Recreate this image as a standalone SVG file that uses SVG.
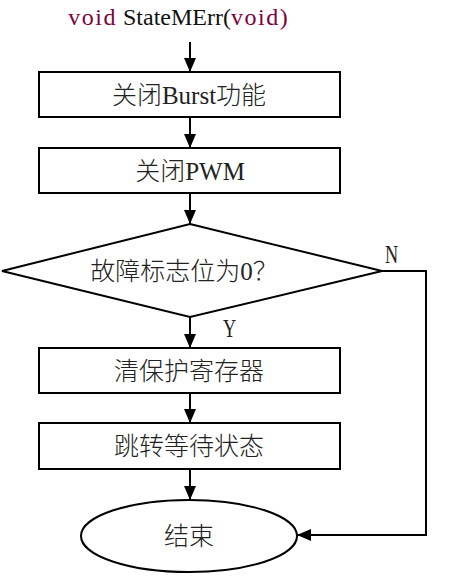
<svg xmlns="http://www.w3.org/2000/svg" width="451" height="584" viewBox="0 0 451 584">
<style>
.box{fill:#fff;stroke:#000;stroke-width:2}
.ln{fill:none;stroke:#000;stroke-width:2}
.t{font-family:"Liberation Serif","Noto Sans CJK SC",serif;font-size:25px;font-weight:300;fill:#222;text-anchor:middle}
.lbl{font-family:"Liberation Serif",serif;font-size:26px;fill:#222}
.kw{fill:#800040}
</style>
<defs>
<marker id="ah" markerWidth="14" markerHeight="12" refX="14" refY="6" orient="auto" markerUnits="userSpaceOnUse">
<path d="M0,0 L14,6 L0,12 Z" fill="#000"/>
</marker>
</defs>
<g id="title">
<text x="178" y="25" font-family="Liberation Serif,serif" font-size="24" text-anchor="middle" fill="#111"><tspan class="kw" letter-spacing="1.5">void</tspan> StateMErr(<tspan class="kw" letter-spacing="1.5">void</tspan><tspan class="kw">)</tspan></text>
</g>
<g id="n1"><rect class="box" x="39" y="72" width="301" height="45"/><text class="t" x="189" y="104">关闭Burst功能</text></g>
<g id="n2"><rect class="box" x="39" y="148" width="301" height="45"/><text class="t" x="190" y="180">关闭PWM</text></g>
<g id="n3"><polygon class="box" points="190,224 382,271 190,317 2,271" stroke-width="2.5"/><text class="t" x="184" y="280">故障标志位为0？</text></g>
<g id="n4"><rect class="box" x="39" y="348" width="301" height="45"/><text class="t" x="189" y="380">清保护寄存器</text></g>
<g id="n5"><rect class="box" x="39" y="423" width="301" height="46"/><text class="t" x="189" y="455">跳转等待状态</text></g>
<g id="n6"><ellipse class="box" cx="189" cy="536" rx="108" ry="36"/><text class="t" x="189" y="545">结束</text></g>
<g id="connectors">
<line class="ln" x1="190" y1="42" x2="190" y2="72" marker-end="url(#ah)"/>
<line class="ln" x1="190" y1="117" x2="190" y2="148" marker-end="url(#ah)"/>
<line class="ln" x1="190" y1="193" x2="190" y2="224" marker-end="url(#ah)"/>
<line class="ln" x1="190" y1="317" x2="190" y2="348" marker-end="url(#ah)"/>
<line class="ln" x1="190" y1="393" x2="190" y2="423" marker-end="url(#ah)"/>
<line class="ln" x1="190" y1="469" x2="190" y2="500" marker-end="url(#ah)"/>
<polyline class="ln" points="382,271 426,271 426,535 297,535" marker-end="url(#ah)"/>
<text class="lbl" transform="translate(385 263) scale(0.7 1)">N</text>
<text class="lbl" transform="translate(223 337) scale(0.7 1)">Y</text>
</g>
</svg>
